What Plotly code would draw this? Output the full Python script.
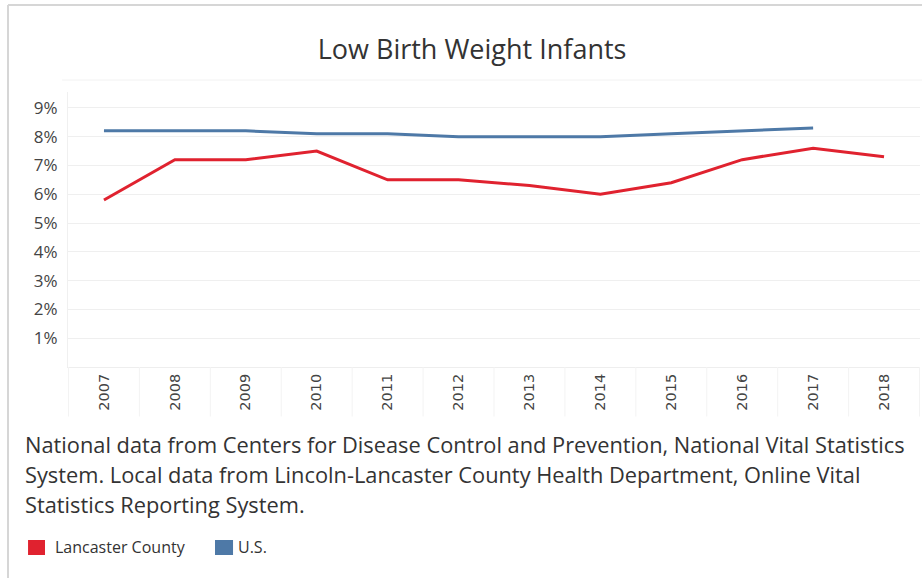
import plotly.graph_objects as go

years = ["2007", "2008", "2009", "2010", "2011", "2012", "2013", "2014", "2015", "2016", "2017", "2018"]
lancaster = [5.8, 7.2, 7.2, 7.5, 6.5, 6.5, 6.3, 6.0, 6.4, 7.2, 7.6, 7.3]
us = [8.2, 8.2, 8.2, 8.1, 8.1, 8.0, 8.0, 8.0, 8.1, 8.2, 8.3, None]
y_ticks = [1, 2, 3, 4, 5, 6, 7, 8, 9]
y_labels = ["1%", "2%", "3%", "4%", "5%", "6%", "7%", "8%", "9%"]
source_lines = [
    "National data from Centers for Disease Control and Prevention, National Vital Statistics",
    "System. Local data from Lincoln-Lancaster County Health Department, Online Vital",
    "Statistics Reporting System.",
]

RED = "#e0222f"
BLUE = "#4e79a7"
TEXT = "#333333"

fig = go.Figure()
fig.add_trace(go.Scatter(x=years, y=us, mode="lines", name="U.S.",
                         line=dict(color=BLUE, width=3)))
fig.add_trace(go.Scatter(x=years, y=lancaster, mode="lines", name="Lancaster County",
                         line=dict(color=RED, width=3)))

# faint separators between year bands under the axis
shapes = []
for i in range(len(years) + 1):
    shapes.append(dict(type="line", xref="x", yref="paper", x0=i - 0.5, x1=i - 0.5,
                       y0=-0.18, y1=0, line=dict(color="#f3f3f3", width=1)))
# outer frame (top and left edges)
shapes.append(dict(type="line", xref="paper", yref="paper", x0=-0.0704, x1=1.01, y0=1.316, y1=1.316,
                   line=dict(color="#d6d6d6", width=2)))
shapes.append(dict(type="line", xref="paper", yref="paper", x0=-0.0704, x1=-0.0704, y0=1.316, y1=-0.8,
                   line=dict(color="#d6d6d6", width=2)))
# pane top line
shapes.append(dict(type="line", xref="paper", yref="paper", x0=-0.007, x1=1.01, y0=1.0436, y1=1.0436,
                   line=dict(color="#f2f2f2", width=1)))

# legend swatches
shapes.append(dict(type="rect", xref="paper", yref="paper", x0=-0.0469, x1=-0.0270, y0=-0.6836, y1=-0.629,
                   fillcolor=RED, line=dict(width=0)))
shapes.append(dict(type="rect", xref="paper", yref="paper", x0=0.1725, x1=0.1937, y0=-0.6836, y1=-0.629,
                   fillcolor=BLUE, line=dict(width=0)))

annotations = []
for i, line in enumerate(source_lines):
    annotations.append(dict(text=line, xref="paper", yref="paper", x=-0.0525, y=-0.2836 - 0.109 * i,
                            xanchor="left", yanchor="middle", showarrow=False,
                            font=dict(family="Open Sans", size=21.8, color=TEXT)))
annotations += [
    dict(text="Lancaster County", xref="paper", yref="paper", x=-0.0175, y=-0.6545,
         xanchor="left", yanchor="middle", showarrow=False,
         font=dict(family="Open Sans", size=16, color=TEXT)),
    dict(text="U.S.", xref="paper", yref="paper", x=0.197, y=-0.6545,
         xanchor="left", yanchor="middle", showarrow=False,
         font=dict(family="Open Sans", size=16, color=TEXT)),
]

fig.update_layout(
    width=922, height=578,
    margin=dict(l=68, r=2, t=92, b=211),
    paper_bgcolor="white", plot_bgcolor="white",
    showlegend=False,
    title=dict(text="Low Birth Weight Infants", x=0.512, xanchor="center", y=0.9135, yanchor="middle",
               font=dict(family="Open Sans", size=27, color=TEXT)),
    xaxis=dict(type="category", tickangle=-90, showgrid=False, showline=True,
               linecolor="#eeeeee", ticks="", tickfont=dict(family="DejaVu Sans", size=14.5, color="#444444")),
    yaxis=dict(range=[0, 9.55], tickvals=y_ticks, ticktext=y_labels, showgrid=True,
               gridcolor="#efefef", zeroline=False, showline=True, linecolor="#f0f0f0",
               ticks="", ticklabelstandoff=6,
               tickfont=dict(family="Open Sans", size=17, color="#444444")),
    shapes=shapes,
    annotations=annotations,
)

fig.write_html("out.html", config={"displayModeBar": False},
               post_script="document.body.style.margin='0';")
